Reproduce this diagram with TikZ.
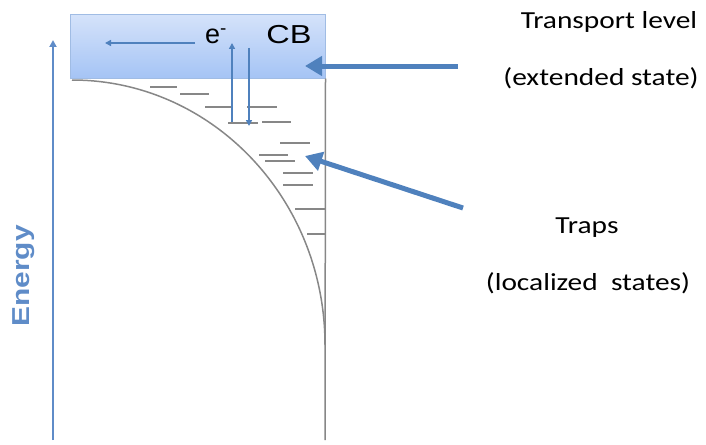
\documentclass[tikz,border=0pt]{standalone}
\usepackage{fontspec}
\setmainfont{Carlito}
\newfontfamily\labelfont[FakeStretch=1.2]{Carlito}
\newfontfamily\arialfont{Liberation Sans}
\newfontfamily\arialwide[FakeStretch=1.25]{Liberation Sans}
\newfontfamily\energyfont[FakeStretch=1.22]{Liberation Sans}
\usetikzlibrary{arrows.meta}
\definecolor{axisblue}{RGB}{95,140,200}
\definecolor{arrblue}{RGB}{79,129,189}
\definecolor{trapgrey}{RGB}{135,135,135}
\definecolor{boxtop}{RGB}{212,226,250}
\definecolor{boxbot}{RGB}{165,196,245}
\definecolor{boxline}{RGB}{160,188,228}
\tikzset{
  trap/.style={draw=trapgrey, line width=1.8pt},
  thinarrow/.style={draw=arrblue, line width=1.5pt, -{Triangle[length=6pt,width=6pt]}},
  bigarrow/.style={draw=arrblue, line width=5pt, -{Triangle[length=17pt,width=19pt]}},
  label/.style={font=\labelfont\fontsize{24.5}{30}\selectfont, inner sep=0pt},
}
\begin{document}
\begin{tikzpicture}[x=1pt,y=-1pt]
\useasboundingbox (0,0) rectangle (706,444);
% conduction band box
\node[draw=boxline, line width=1pt, top color=boxtop, bottom color=boxbot,
      minimum width=255pt, minimum height=63pt, inner sep=0pt] (cb) at (197.5,46.5) {};
\node[font=\arialwide\fontsize{26}{28}\selectfont, inner sep=0pt] (cbl) at (289,35) {CB};
\node[font=\arialfont\fontsize{27}{28}\selectfont, inner sep=0pt] (el) at (216,36) {e\textsuperscript{-}};
% right vertical line and band tail
\coordinate (vbot) at (325,440);
\draw[trapgrey, line width=1.5pt] (cb.south east) -- (vbot);
\coordinate (cs) at (72,80);
\coordinate (ce) at (325,345);
\draw[trapgrey, line width=1.5pt] (cs) .. controls (211.7,80) and (325,198.6) .. (ce);
% traps
\draw[trap] (150,87) -- (177,87);
\draw[trap] (180,94) -- (209,94);
\draw[trap] (205,107) -- (233,107);
\draw[trap] (247,107) -- (277,107);
\draw[trap] (228,123) -- (258,123);
\draw[trap] (262,122) -- (291,122);
\draw[trap] (280,143) -- (310,143);
\draw[trap] (259,155) -- (288,155);
\draw[trap] (265,161) -- (295,161);
\draw[trap] (283,173) -- (313,173);
\draw[trap] (283,185) -- (313,185);
\draw[trap] (295,209) -- (325,209);
\draw[trap] (307,234) -- (325,234);
% electron arrows
\coordinate (ha) at (195,43);
\coordinate (hb) at (105,43);
\draw[thinarrow] (ha) -- (hb);
\coordinate (ua) at (232,122);
\coordinate (ub) at (232,43);
\draw[thinarrow] (ua) -- (ub);
\coordinate (da) at (249,48);
\coordinate (db) at (249,126);
\draw[thinarrow] (da) -- (db);
% energy axis
\coordinate (ea) at (53,440);
\coordinate (eb) at (53,40);
\draw[draw=axisblue, line width=2.5pt, -{Triangle[length=7pt,width=7pt]}] (ea) -- (eb);
\node[rotate=90, text=axisblue, font=\energyfont\bfseries\fontsize{24.5}{30}\selectfont, inner sep=0pt] (en) at (24,276) {Energy};
% labels
\node[label] (t1) at (609,22) {Transport level};
\node[label] (t2) at (601,78) {(extended state)};
\node[label] (t3) at (587,228) {Traps};
\node[label] (t4) at (588,283) {(localized\ \ states)};
% big arrows
\coordinate (ta) at (458,66);
\coordinate (tb) at (305,66);
\draw[bigarrow] (ta) -- (tb);
\coordinate (pa) at (463,208);
\coordinate (pb) at (305,156);
\draw[bigarrow] (pa) -- (pb);
\end{tikzpicture}
\end{document}
